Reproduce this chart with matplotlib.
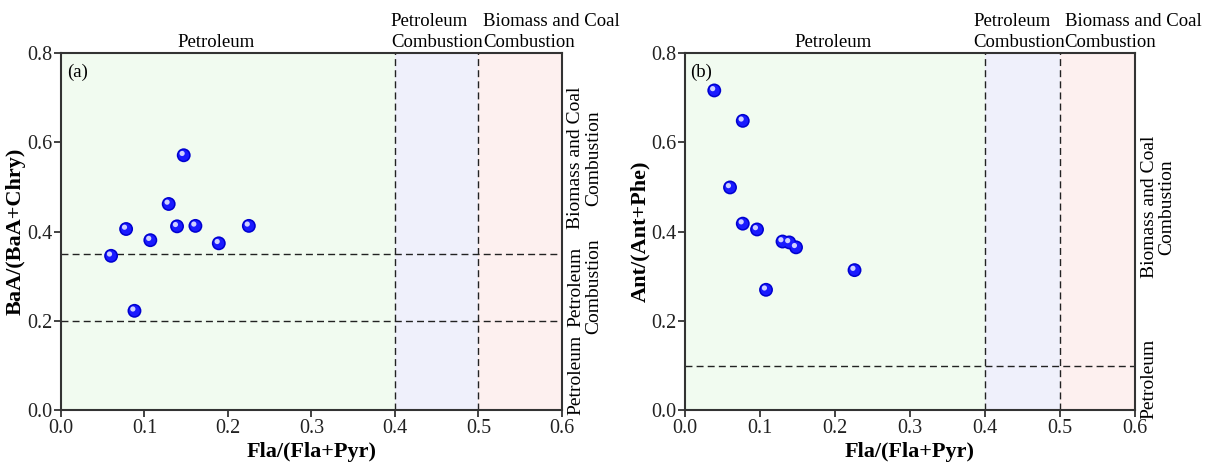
import matplotlib
matplotlib.use("Agg")
import matplotlib.pyplot as plt
import matplotlib.transforms as mtransforms

plt.rcParams['font.family'] = ['Liberation Serif', 'DejaVu Serif']
plt.rcParams['font.size'] = 14

# panel (a): Fla/(Fla+Pyr) vs BaA/(BaA+Chry)
fla_a = [0.147, 0.129, 0.078, 0.139, 0.161, 0.225, 0.107, 0.189, 0.060, 0.088]
baa_a = [0.571, 0.462, 0.406, 0.412, 0.413, 0.413, 0.381, 0.374, 0.346, 0.223]

# panel (b): Fla/(Fla+Pyr) vs Ant/(Ant+Phe)
fla_b = [0.039, 0.077, 0.060, 0.077, 0.096, 0.130, 0.139, 0.148, 0.226, 0.108]
ant_b = [0.716, 0.648, 0.499, 0.418, 0.405, 0.378, 0.376, 0.365, 0.314, 0.270]

x_limits = [0.4, 0.5]
baa_limits = [0.2, 0.35]
ant_limits = [0.1]

green = '#f1fbf0'
blue = '#eff0fb'
pink = '#fdf0ef'


def spheres(ax, x, y):
    ax.scatter(x, y, s=100, color='#0000d0', edgecolors='none', zorder=4)
    ax.scatter(x, y, s=60, color='#1a1aff', edgecolors='none', zorder=5)
    hl = mtransforms.offset_copy(ax.transData, fig=ax.figure, x=-1.6, y=1.8, units='dots')
    ax.scatter(x, y, s=14, color='#d0d0ff', edgecolors='none', zorder=6, transform=hl)


def panel(ax, x, y, hlines, ylabel, tag, top_xs, right_labels):
    ax.axvspan(0, 0.4, color=green, zorder=0, lw=0)
    ax.axvspan(0.4, 0.5, color=blue, zorder=0, lw=0)
    ax.axvspan(0.5, 0.6, color=pink, zorder=0, lw=0)
    for v in x_limits:
        ax.axvline(v, color='#222222', ls=(0, (5, 3)), lw=1.0, zorder=2)
    for h in hlines:
        ax.axhline(h, color='#222222', ls=(0, (5, 3)), lw=1.0, zorder=2)
    spheres(ax, x, y)
    ax.set_xlim(0, 0.6)
    ax.set_ylim(0, 0.8)
    ax.set_xticks([0.0, 0.1, 0.2, 0.3, 0.4, 0.5, 0.6])
    ax.set_yticks([0.0, 0.2, 0.4, 0.6, 0.8])
    ax.xaxis.set_major_formatter(matplotlib.ticker.FormatStrFormatter('%.1f'))
    ax.yaxis.set_major_formatter(matplotlib.ticker.FormatStrFormatter('%.1f'))
    ax.tick_params(direction='out', length=5, width=1.2, labelsize=14.5, pad=1, colors='#222222')
    for s in ax.spines.values():
        s.set_linewidth(1.5)
        s.set_color('#333333')
    ax.set_xlabel('Fla/(Fla+Pyr)', fontsize=16, fontweight='bold', labelpad=3)
    ax.set_ylabel(ylabel, fontsize=16, fontweight='bold', labelpad=1)
    ax.text(0.012, 0.97, tag, transform=ax.transAxes, fontsize=13.5, va='top', ha='left')

    top = mtransforms.blended_transform_factory(ax.transData, ax.transAxes)
    ax.text(top_xs[0], 1.005, 'Petroleum', transform=top, ha='center', va='bottom', fontsize=13.5)
    ax.text(top_xs[1], 1.005, 'Petroleum\nCombustion', transform=top, ha='left', va='bottom',
            fontsize=13.5, linespacing=1.3)
    ax.text(top_xs[2], 1.005, 'Biomass and Coal\nCombustion', transform=top, ha='left', va='bottom',
            fontsize=13.5, linespacing=1.3)

    side = mtransforms.blended_transform_factory(ax.transAxes, ax.transData)
    for yy, lab in right_labels:
        ax.annotate(lab, xy=(1, yy), xycoords=side, xytext=(4, 0), textcoords='offset points',
                    rotation=90, ha='left', va='center', multialignment='center',
                    fontsize=14, linespacing=1.05)


fig = plt.figure(figsize=(12.15, 4.62), dpi=100)
ax1 = fig.add_axes([0.0502, 0.1115, 0.4123, 0.774])
ax2 = fig.add_axes([0.5638, 0.1115, 0.3704, 0.774])

panel(ax1, fla_a, baa_a, baa_limits, 'BaA/(BaA+Chry)', '(a)', [0.186, 0.395, 0.506],
      [(0.565, 'Biomass and Coal\nCombustion'), (0.277, 'Petroleum\nCombustion'), (0.08, 'Petroleum')])
panel(ax2, fla_b, ant_b, ant_limits, 'Ant/(Ant+Phe)', '(b)', [0.197, 0.384, 0.506],
      [(0.455, 'Biomass and Coal\nCombustion'), (0.07, 'Petroleum')])

fig.savefig('out.png', dpi=100)
